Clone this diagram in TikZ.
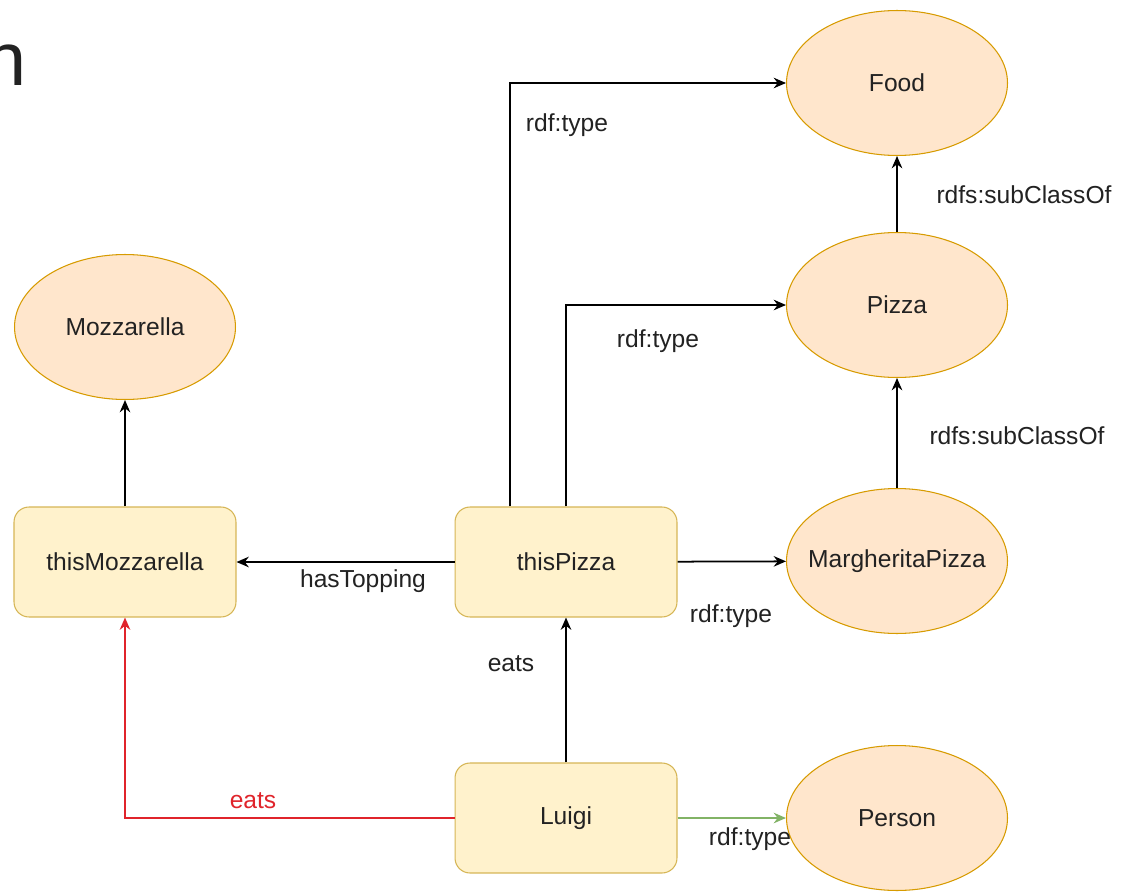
\documentclass[tikz,border=0pt]{standalone}
\usepackage{fontspec}
\setmainfont{Liberation Sans}
\usepackage{color}
\usetikzlibrary{shapes.geometric,arrows.meta}
\definecolor{clsfill}{HTML}{FFE6CC}
\definecolor{clsline}{HTML}{D79B00}
\definecolor{insfill}{HTML}{FFF2CC}
\definecolor{insline}{HTML}{D6B656}
\definecolor{eatsred}{HTML}{E0242B}
\definecolor{typegreen}{HTML}{82B366}
\definecolor{txt}{HTML}{222222}

\begin{document}
\begin{tikzpicture}[x=0.02cm,y=-0.02cm]
\tikzstyle{every node}+=[font=\fontsize{14}{16}\selectfont, text=txt]
\tikzstyle{cls}=[ellipse, draw=clsline, fill=clsfill, line width=0.6pt, inner sep=0pt, minimum width=4.42cm, minimum height=2.9cm]
\tikzstyle{ins}=[rectangle, rounded corners=0.3cm, draw=insline, fill=insfill, line width=0.6pt, minimum width=4.44cm, minimum height=2.2cm]
\tikzstyle{rel}=[line width=1pt, -{Stealth[length=7pt,width=6pt]}]
\useasboundingbox (0,0) rectangle (1122,892);
\fill [white] (0,0) rectangle (1122,892);
\node [anchor=base east, inner sep=0pt, font=\fontsize{43}{43}\selectfont] (cut) at (27,86) {n};
% classes
\node [cls, label=center:Food] (food) at (897,83) {};
\node [cls, label=center:Pizza] (pizza) at (897,305) {};
\node [cls, label=center:MargheritaPizza] (marg) at (897,561) {};
\node [cls, label=center:Person] (person) at (897,818) {};
\node [cls, label=center:Mozzarella] (mozz) at (125,327) {};
% instances
\node [ins] (tm) at (125,562) {thisMozzarella};
\node [ins] (tp) at (566,562) {thisPizza};
\node [ins] (luigi) at (566,818) {Luigi};
% edges
\draw [rel] ([xshift=-1.12cm]tp.north) |- (food.west);
\draw [rel] (tp.north) |- (pizza.west);
\draw [rel] (pizza) -- (food);
\draw [rel] (marg) -- (pizza);
\draw [rel] (tp) -- (marg);
\draw [rel] (tp) -- (tm);
\draw [rel] (tm) -- (mozz);
\draw [rel] (luigi) -- (tp);
\draw [rel, eatsred] (luigi.west) -| (tm.south);
\draw [rel, typegreen] (luigi) -- (person);
% labels
\node (l1) at (567,125) {rdf:type};
\node (l2) at (658,341) {rdf:type};
\node (l3) at (1024,195) {rdfs:subClassOf};
\node (l4) at (1017,436) {rdfs:subClassOf};
\node (l5) at (731,616) {rdf:type};
\node (l6) at (363,581) {hasTopping};
\node (l7) at (511,664) {eats};
\node [text=eatsred] (l8) at (253,801) {eats};
\node (l9) at (750,839) {rdf:type};
\end{tikzpicture}
\end{document}
